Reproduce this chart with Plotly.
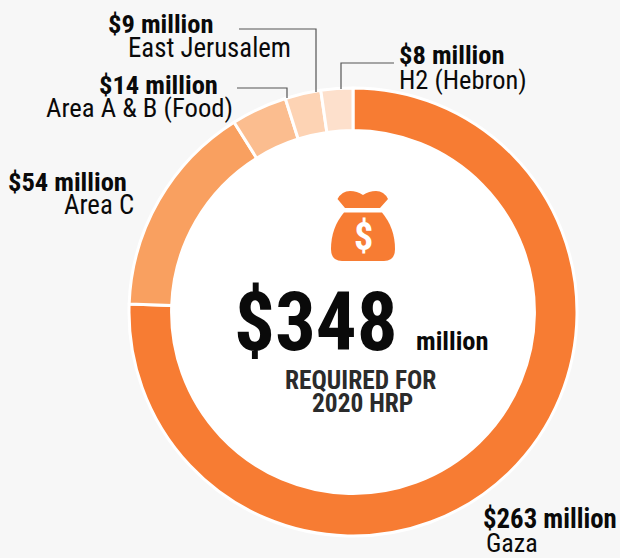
import plotly.graph_objects as go

regions = ["Gaza", "Area C", "Area A & B (Food)", "East Jerusalem", "H2 (Hebron)"]
amounts = [263, 54, 14, 9, 8]
amount_labels = ["$263 million", "$54 million", "$14 million", "$9 million", "$8 million"]
colors = ["#F77C33", "#F9A060", "#FBBD8F", "#FDD3B4", "#FDE0CC"]

W, H = 620, 558
FONT = "Roboto Condensed, Liberation Sans Narrow, Roboto, sans-serif"
def px(x): return x / W
def py(y): return 1 - y / H
def pt(x, y): return f"{px(x):.5f},{py(y):.5f}"

fig = go.Figure(go.Pie(
    labels=regions, values=amounts, hole=0.81, sort=False, direction="clockwise", rotation=0,
    marker=dict(colors=colors, line=dict(color="white", width=3)),
    textinfo="none", hoverinfo="label+value", showlegend=False,
    domain=dict(x=[px(129), px(577)], y=[py(536), py(88)]),
))

shapes = [dict(type="circle", xref="paper", yref="paper", layer="below",
               x0=px(353 - 183), x1=px(353 + 183), y0=py(312 + 183), y1=py(312 - 183),
               fillcolor="white", line=dict(width=0))]
leaders = [
    [(239, 29), (316, 29), (316, 92)],
    [(237, 88), (287, 88), (287, 98)],
    [(394, 63), (341, 63), (341, 89)],
]
for pts in leaders:
    d = "M" + " L".join(pt(*p) for p in pts)
    shapes.append(dict(type="path", xref="paper", yref="paper", path=d, line=dict(color="#555555", width=1.2)))
bag_top = (f"M{pt(337.5,199)} Q{pt(342,191)} {pt(350,191)} Q{pt(357,191)} {pt(363,195)} "
           f"Q{pt(369,191)} {pt(376,191)} Q{pt(384,191)} {pt(388,199)} L{pt(380,208)} L{pt(345,208)} Z")
shapes.append(dict(type="path", xref="paper", yref="paper", fillcolor="#F77C33", line=dict(width=0), path=bag_top))
bag_body = (f"M{pt(344,212.5)} L{pt(382,212.5)} Q{pt(395,228)} {pt(395,249)} Q{pt(395,261)} {pt(384,261)} "
            f"L{pt(342,261)} Q{pt(331,261)} {pt(331,249)} Q{pt(331,228)} {pt(344,212.5)} Z")
shapes.append(dict(type="path", xref="paper", yref="paper", fillcolor="#F77C33", line=dict(width=0), path=bag_body))

def note(x, y, text, size, bold=False, anchor="left", color="#0a0a0a"):
    return dict(x=px(x), y=py(y), xref="paper", yref="paper", xanchor=anchor, yanchor="middle",
                text=f"<b>{text}</b>" if bold else text, showarrow=False,
                font=dict(family=FONT, size=size, color=color))

annotations = [
    note(215, 24, amount_labels[3], 26.5, True, "right"),
    note(293, 48, regions[3], 26.8, False, "right"),
    note(220, 85, amount_labels[2], 26.5, True, "right"),
    note(235, 108, regions[2], 26.7, False, "right"),
    note(129, 181, amount_labels[1], 26.5, True, "right"),
    note(136, 205, regions[1], 26.8, False, "right"),
    note(397, 54, amount_labels[4], 26.5, True),
    note(397, 80, regions[4], 26.4),
    note(481, 519, amount_labels[0], 26.8, True),
    note(484, 543, regions[0], 26),
    note(363, 237, "$", 38, True, "center", "white"),
    note(316, 322, "$348", 81, True, "center"),
    note(452, 340, "million", 26.5, True, "center"),
    note(360, 380, "REQUIRED FOR", 25.4, True, "center", "#2b2b2b"),
    note(362, 403, "2020 HRP", 25.4, True, "center", "#2b2b2b"),
]

fig.update_layout(width=W, height=H, margin=dict(l=0, r=0, t=0, b=0), autosize=False,
                  paper_bgcolor="#F7F7F7", plot_bgcolor="#F7F7F7",
                  shapes=shapes, annotations=annotations)
fig.write_html("out.html", config=dict(displayModeBar=False), post_script="document.body.style.margin='0';")
